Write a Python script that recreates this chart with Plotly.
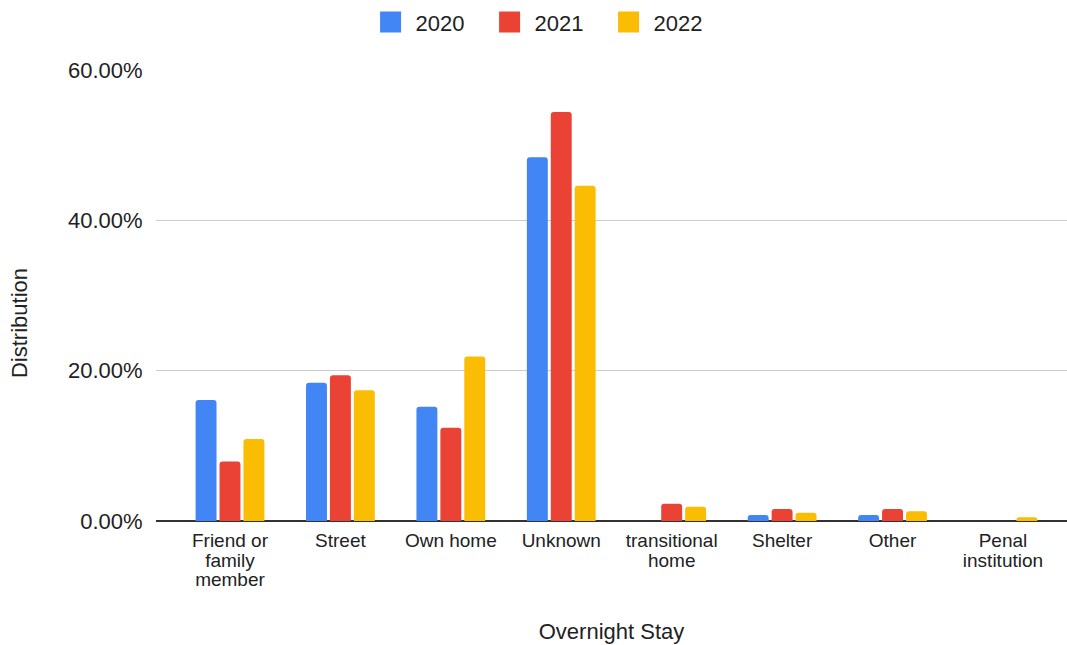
import plotly.graph_objects as go

categories = ["Friend or<br>family<br>member", "Street", "Own home", "Unknown",
              "transitional<br>home", "Shelter", "Other", "Penal<br>institution"]
years = ["2020", "2021", "2022"]
values_2020 = [16.1, 18.4, 15.2, 48.4, 0.0, 0.8, 0.8, 0.0]
values_2021 = [7.9, 19.4, 12.4, 54.4, 2.3, 1.6, 1.6, 0.0]
values_2022 = [10.9, 17.4, 21.9, 44.6, 1.9, 1.1, 1.3, 0.5]
y_ticks = [0, 20, 40, 60]
y_tick_labels = ["0.00%", "20.00%", "40.00%", "60.00%"]
colors = ["#4285F4", "#EA4335", "#FBBC04"]

font = "Liberation Sans, Arial, sans-serif"
text_col = "#222222"

# tick labels: small base font (tight line spacing) with larger glyphs
tick_text = ["<br>".join('<span style="font-size:19px">%s</span>' % part for part in c.split("<br>"))
             for c in categories]

fig = go.Figure()
for name, vals, col in zip(years, [values_2020, values_2021, values_2022], colors):
    fig.add_trace(go.Bar(x=list(range(len(categories))), y=vals, name=name, showlegend=False,
                         marker=dict(color=col, cornerradius=3, line=dict(width=0))))
    # legend entry with a larger square swatch
    fig.add_trace(go.Scatter(x=[None], y=[None], mode="markers", name=name,
                             marker=dict(symbol="square", size=16, color=col,
                                         line=dict(color=col, width=5))))

fig.update_layout(
    width=1067, height=645,
    margin=dict(l=156, r=0, t=70, b=124),
    paper_bgcolor="white", plot_bgcolor="white",
    barmode="group", bargap=0.35, bargroupgap=0.125,
    font=dict(family=font, size=17, color=text_col),
    legend=dict(orientation="h", x=0.426, xanchor="center", y=0.998, yanchor="top",
                yref="container", font=dict(size=22, color=text_col),
                itemwidth=40, entrywidth=64, entrywidthmode="pixels",
                traceorder="normal"),
    xaxis=dict(
        tickmode="array", tickvals=list(range(len(categories))), ticktext=tick_text,
        range=[-0.67, 7.58], showgrid=False, showline=False,
        ticks="outside", ticklen=7, tickcolor="rgba(0,0,0,0)",
        tickfont=dict(size=15, color=text_col),
        title=dict(text="Overnight Stay", font=dict(size=22, color=text_col), standoff=34),
    ),
    yaxis=dict(
        range=[0, 60], tickvals=y_ticks, ticktext=y_tick_labels,
        showgrid=True, gridcolor="#cccccc", gridwidth=1,
        zeroline=True, zerolinecolor="#333333", zerolinewidth=2,
        tickfont=dict(size=22, color=text_col),
        ticks="outside", ticklen=8, tickcolor="rgba(0,0,0,0)",
        title=dict(text="Distribution" + "&nbsp;" * 9, font=dict(size=22, color=text_col), standoff=34),
    ),
)
fig.write_html("out.html")
